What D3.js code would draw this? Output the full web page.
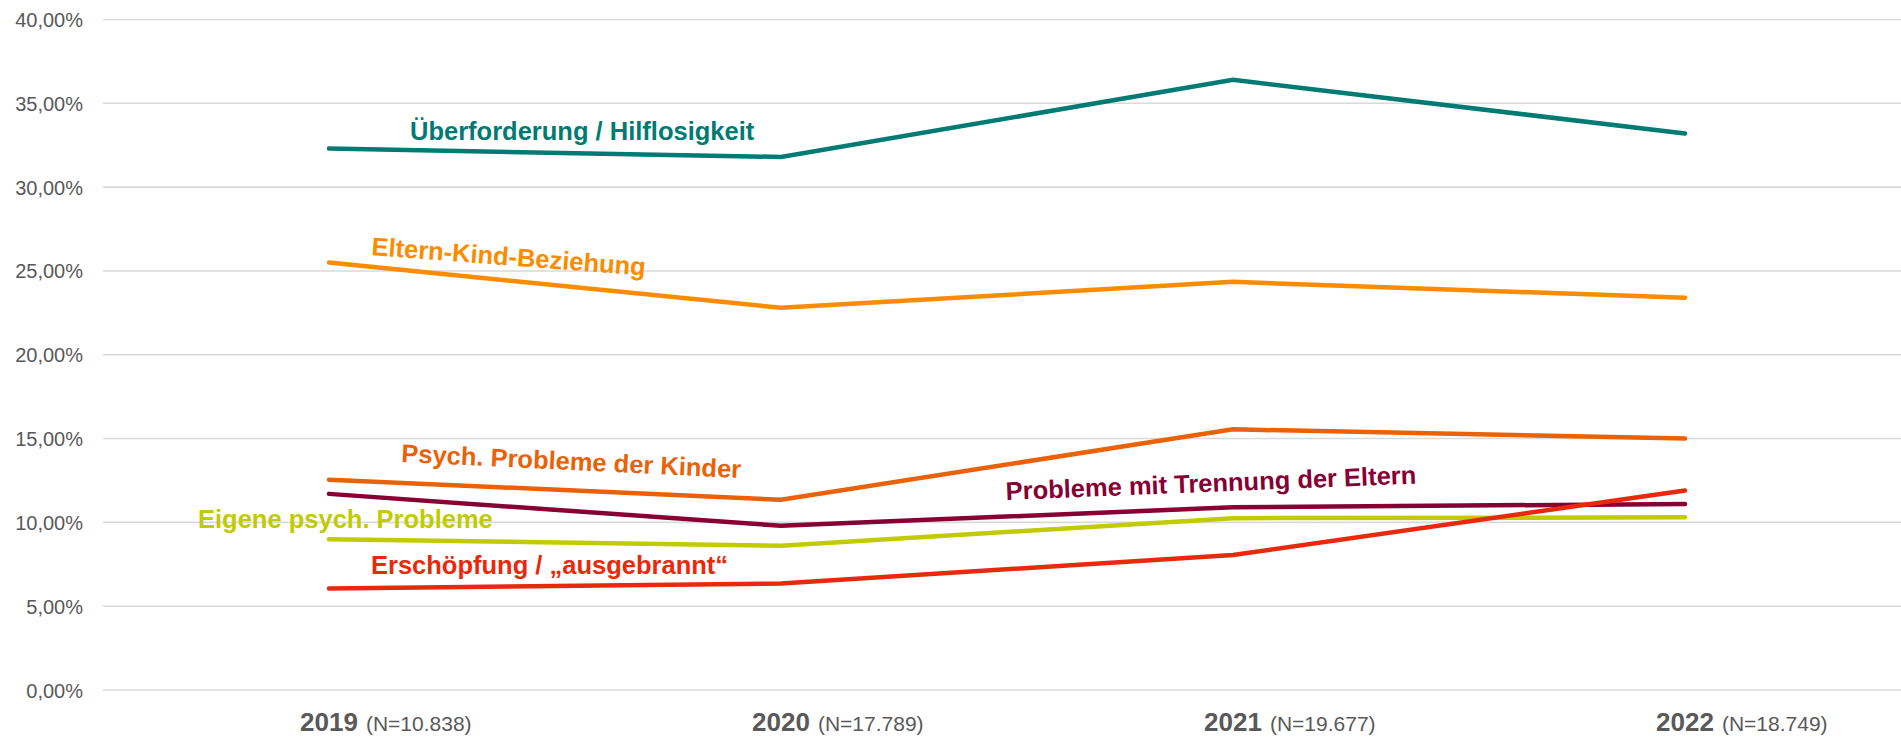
<!DOCTYPE html>
<html>
<head>
<meta charset="utf-8">
<script src="https://cdn.jsdelivr.net/npm/d3@7"></script>
<style>
  html, body { margin: 0; padding: 0; background: #fff; overflow: hidden; }
  svg { display: block; font-family: "Liberation Sans", Arial, sans-serif; }
</style>
</head>
<body>
<script>
// Size of the picture
var width = 1901;
var height = 737;

// Categories and sample sizes
var years = ["2019", "2020", "2021", "2022"];
var sampleSizes = ["(N=10.838)", "(N=17.789)", "(N=19.677)", "(N=18.749)"];

// Series values in percent
var seriesNames = [
  "Überforderung / Hilflosigkeit",
  "Eltern-Kind-Beziehung",
  "Psych. Probleme der Kinder",
  "Probleme mit Trennung der Eltern",
  "Eigene psych. Probleme",
  "Erschöpfung / „ausgebrannt“"
];
var ueberforderung = [32.3, 31.8, 36.4, 33.2];
var elternKind = [25.5, 22.8, 24.35, 23.4];
var psychKinder = [12.55, 11.35, 15.55, 15.0];
var trennung = [11.7, 9.8, 10.9, 11.1];
var eigenePsych = [9.0, 8.6, 10.25, 10.3];
var erschoepfung = [6.05, 6.35, 8.05, 11.9];
var seriesValues = [ueberforderung, elternKind, psychKinder, trennung, eigenePsych, erschoepfung];
var seriesColors = ["#007b74", "#fb8c00", "#ea6108", "#870033", "#c1cc00", "#e8290c"];

// Y axis ticks
var yTicks = [0, 5, 10, 15, 20, 25, 30, 35, 40];

// Label placement for each series (position in px, angle in degrees)
var labelPos = [
  {x: 410, y: 140, angle: 0},
  {x: 371, y: 255, angle: 4.3},
  {x: 401, y: 462, angle: 2.7},
  {x: 1006, y: 500, angle: -2.3},
  {x: 198, y: 528, angle: 0},
  {x: 371, y: 574, angle: 0}
];

var svg = d3.select("body")
  .append("svg")
  .attr("width", width)
  .attr("height", height);

// Scales
var x = d3.scalePoint()
  .domain(years)
  .range([103, 1911])
  .padding(0.5);

var y = d3.scaleLinear()
  .domain([0, 40])
  .range([690, 19.5]);

// Gridlines
svg.append("g")
  .selectAll("line")
  .data(yTicks)
  .enter()
  .append("line")
  .attr("x1", 103)
  .attr("x2", width)
  .attr("y1", function(d) { return y(d); })
  .attr("y2", function(d) { return y(d); })
  .style("stroke", "#d9d9d9")
  .style("stroke-width", 1.6);

// Y axis labels
var yAxis = d3.axisLeft(y)
  .tickValues(yTicks)
  .tickSize(0)
  .tickPadding(0)
  .tickFormat(function(d) { return d.toFixed(2).replace(".", ",") + "%"; });

var yG = svg.append("g")
  .attr("transform", "translate(83,0)")
  .call(yAxis);
yG.select(".domain").remove();
yG.selectAll("text")
  .attr("dy", "0.35em")
  .style("font-size", "20px")
  .style("font-family", "Liberation Sans, Arial, sans-serif")
  .style("fill", "#595959");

// X axis labels: bold year centred on the point, N appended to the right
var xG = svg.append("g");
years.forEach(function(yr, i) {
  var t = xG.append("text")
    .attr("x", x(yr))
    .attr("y", 731)
    .attr("text-anchor", "middle")
    .style("font-size", "26px")
    .style("font-weight", "bold")
    .style("fill", "#595959")
    .text(yr);
  var w = t.node().getComputedTextLength();
  xG.append("text")
    .attr("x", x(yr) + w / 2 + 8)
    .attr("y", 731)
    .style("font-size", "21px")
    .style("fill", "#595959")
    .text(sampleSizes[i]);
});

// Lines
var line = d3.line()
  .x(function(d, i) { return x(years[i]); })
  .y(function(d) { return y(d); });

svg.append("g")
  .selectAll("path")
  .data(seriesValues)
  .enter()
  .append("path")
  .attr("d", function(d) { return line(d); })
  .style("fill", "none")
  .style("stroke", function(d, i) { return seriesColors[i]; })
  .style("stroke-width", 4.5)
  .style("stroke-linecap", "round")
  .style("stroke-linejoin", "miter");

// Series labels
svg.append("g")
  .selectAll("text")
  .data(seriesNames)
  .enter()
  .append("text")
  .attr("transform", function(d, i) {
    var p = labelPos[i];
    return "translate(" + p.x + "," + p.y + ") rotate(" + p.angle + ")";
  })
  .style("font-size", "25.5px")
  .style("font-weight", "bold")
  .style("fill", function(d, i) { return seriesColors[i]; })
  .text(function(d) { return d; });
</script>
</body>
</html>
